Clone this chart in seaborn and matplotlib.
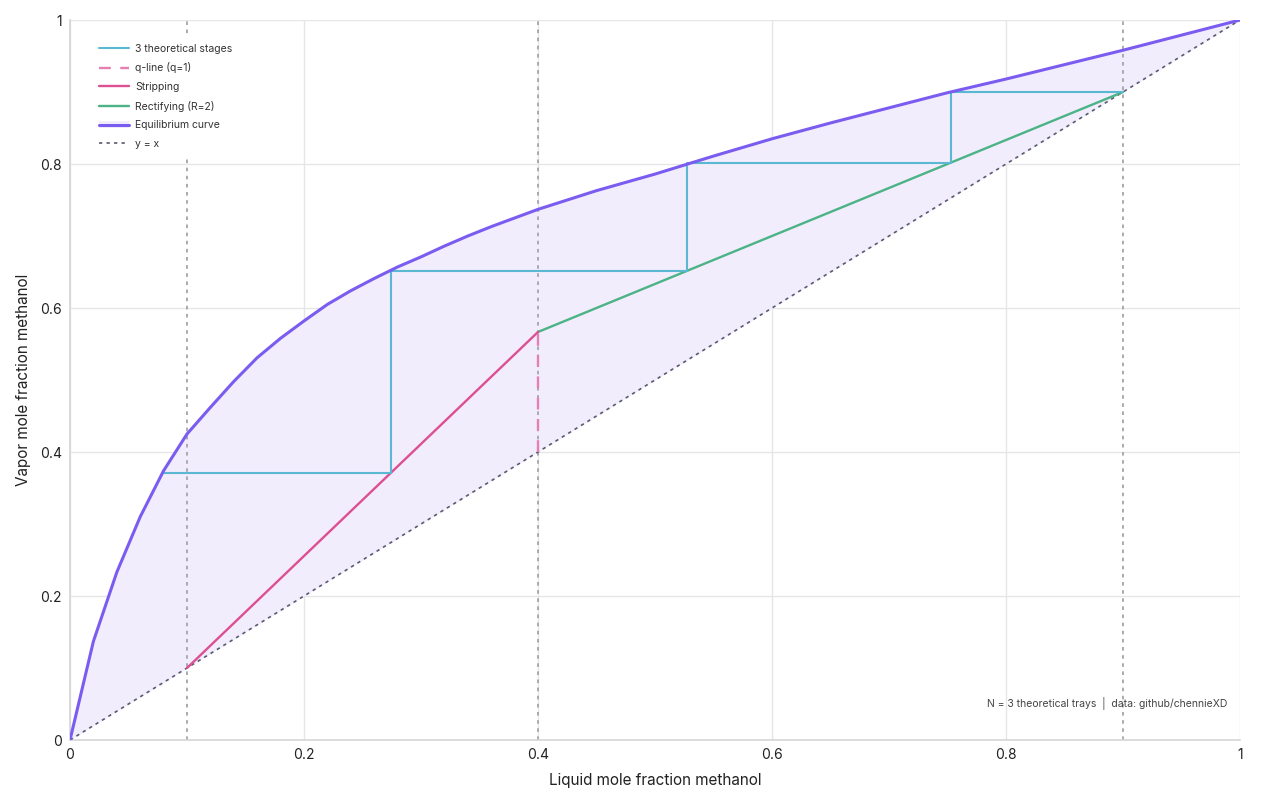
import matplotlib
matplotlib.use("Agg")
import matplotlib.pyplot as plt
import seaborn as sns
import numpy as np
import pandas as pd
from matplotlib.lines import Line2D
from matplotlib.patches import Patch
from matplotlib.legend_handler import HandlerTuple
from matplotlib.ticker import FuncFormatter

# ---- data ----
eq_x = [0.0, 0.02, 0.04, 0.06, 0.08, 0.10, 0.12, 0.14, 0.16, 0.18, 0.20, 0.22, 0.24,
        0.26, 0.28, 0.30, 0.32, 0.34, 0.36, 0.38, 0.40, 0.45, 0.50, 0.55, 0.60, 0.65,
        0.70, 0.75, 0.80, 0.85, 0.90, 0.95, 1.0]
eq_y = [0.0, 0.137, 0.233, 0.310, 0.374, 0.425, 0.462, 0.498, 0.531, 0.558, 0.582, 0.605, 0.624,
        0.641, 0.657, 0.671, 0.686, 0.700, 0.713, 0.725, 0.737, 0.763, 0.786, 0.811, 0.835, 0.857,
        0.878, 0.899, 0.918, 0.938, 0.958, 0.979, 1.0]
diag_x = [0.0, 1.0]
diag_y = [0.0, 1.0]
rect_x = [0.4, 0.9]
rect_y = [0.5667, 0.9]
strip_x = [0.1, 0.4]
strip_y = [0.1, 0.5667]
q_x = [0.4, 0.4]
q_y = [0.4, 0.5667]
stage_x = [0.9, 0.753, 0.753, 0.527, 0.527, 0.274, 0.274, 0.080]
stage_y = [0.9, 0.9, 0.802, 0.802, 0.651, 0.651, 0.371, 0.371]
marker_x = [0.1, 0.4, 0.9]
ticks = [0, 0.2, 0.4, 0.6, 0.8, 1.0]

# ---- style ----
sns.set_theme(style="whitegrid")
plt.rcParams['font.family'] = ['Inter', 'DejaVu Sans']

C_EQ = "#7b5cf0"
C_STAGE = "#5ab8d3"
C_RECT = "#4cb386"
C_STRIP = "#dd4f93"
C_Q = "#e67fb2"
C_DIAG = "#5a5a70"
C_MARK = "#a4a4ac"
C_FILL = "#f1edfc"

fig = plt.figure(figsize=(12.8, 8), dpi=100)
ax = fig.add_axes([70/1280, 60/800, 1170/1280, 720/800])

ax.fill_between(eq_x, eq_y, eq_x, color=C_FILL, linewidth=0, zorder=1)

for mx in marker_x:
    ax.axvline(mx, color=C_MARK, linestyle=(0, (2, 2.5)), linewidth=1.3, zorder=2)

kw = dict(ax=ax, sort=False, estimator=None, errorbar=None)
sns.lineplot(x=diag_x, y=diag_y, color=C_DIAG, linestyle=(0, (2, 2.5)),
             linewidth=1.2, zorder=3, **kw)
sns.lineplot(x=eq_x, y=eq_y, color=C_EQ, linewidth=2.2, zorder=6, **kw)
sns.lineplot(x=rect_x, y=rect_y, color=C_RECT, linewidth=1.7, zorder=4, **kw)
sns.lineplot(x=strip_x, y=strip_y, color=C_STRIP, linewidth=1.7, zorder=4, **kw)
sns.lineplot(x=q_x, y=q_y, color=C_Q, linestyle=(0, (5, 4)), linewidth=1.7,
             zorder=4, **kw)
sns.lineplot(x=stage_x, y=stage_y, color=C_STAGE, linewidth=1.5, zorder=5, **kw)

ax.set_xlim(0, 1)
ax.set_ylim(0, 1)
ax.set_xticks(ticks)
ax.set_yticks(ticks)
fmt = FuncFormatter(lambda v, p: f"{v:g}")
ax.xaxis.set_major_formatter(fmt)
ax.yaxis.set_major_formatter(fmt)
ax.tick_params(axis='both', length=0, labelsize=10, colors="#222222", pad=6)
ax.grid(True, color="#e6e6e6", linewidth=1)
for s in ["top", "right"]:
    ax.spines[s].set_visible(False)
for s in ["left", "bottom"]:
    ax.spines[s].set_color("#d6d6d6")
    ax.spines[s].set_linewidth(1.2)

ax.set_xlabel("Liquid mole fraction methanol", fontsize=11, color="#222222", labelpad=8)
ax.set_ylabel("Vapor mole fraction methanol", fontsize=11, color="#222222", labelpad=6)

handles = [
    Line2D([], [], color=C_STAGE, linewidth=1.5),
    Line2D([], [], color=C_Q, linewidth=1.7, linestyle=(0, (5, 4))),
    Line2D([], [], color=C_STRIP, linewidth=1.7),
    Line2D([], [], color=C_RECT, linewidth=1.7),
    (Patch(facecolor=C_FILL, edgecolor="none"), Line2D([], [], color=C_EQ, linewidth=2.2)),
    Line2D([], [], color=C_DIAG, linewidth=1.2, linestyle=(0, (2, 2.5))),
]
labels = ["3 theoretical stages", "q-line (q=1)", "Stripping", "Rectifying (R=2)",
          "Equilibrium curve", "y = x"]
leg = ax.legend(handles, labels, loc="upper left", bbox_to_anchor=(0.015, 0.983),
                fontsize=7.5, frameon=True, framealpha=1, edgecolor="white",
                facecolor="white", handlelength=2.9, handletextpad=0.55,
                labelspacing=0.83, borderpad=0.6,
                handler_map={tuple: HandlerTuple(ndivide=1, pad=0)})
leg.get_frame().set_linewidth(0)
leg.set_zorder(10)
for t in leg.get_texts():
    t.set_color("#333333")

ax.text(0.989, 0.051, "N = 3 theoretical trays  |  data: github/chennieXD",
        transform=ax.transAxes, ha="right", va="center", fontsize=7.5, color="#444444",
        zorder=10)

fig.savefig("out.png", dpi=100)
